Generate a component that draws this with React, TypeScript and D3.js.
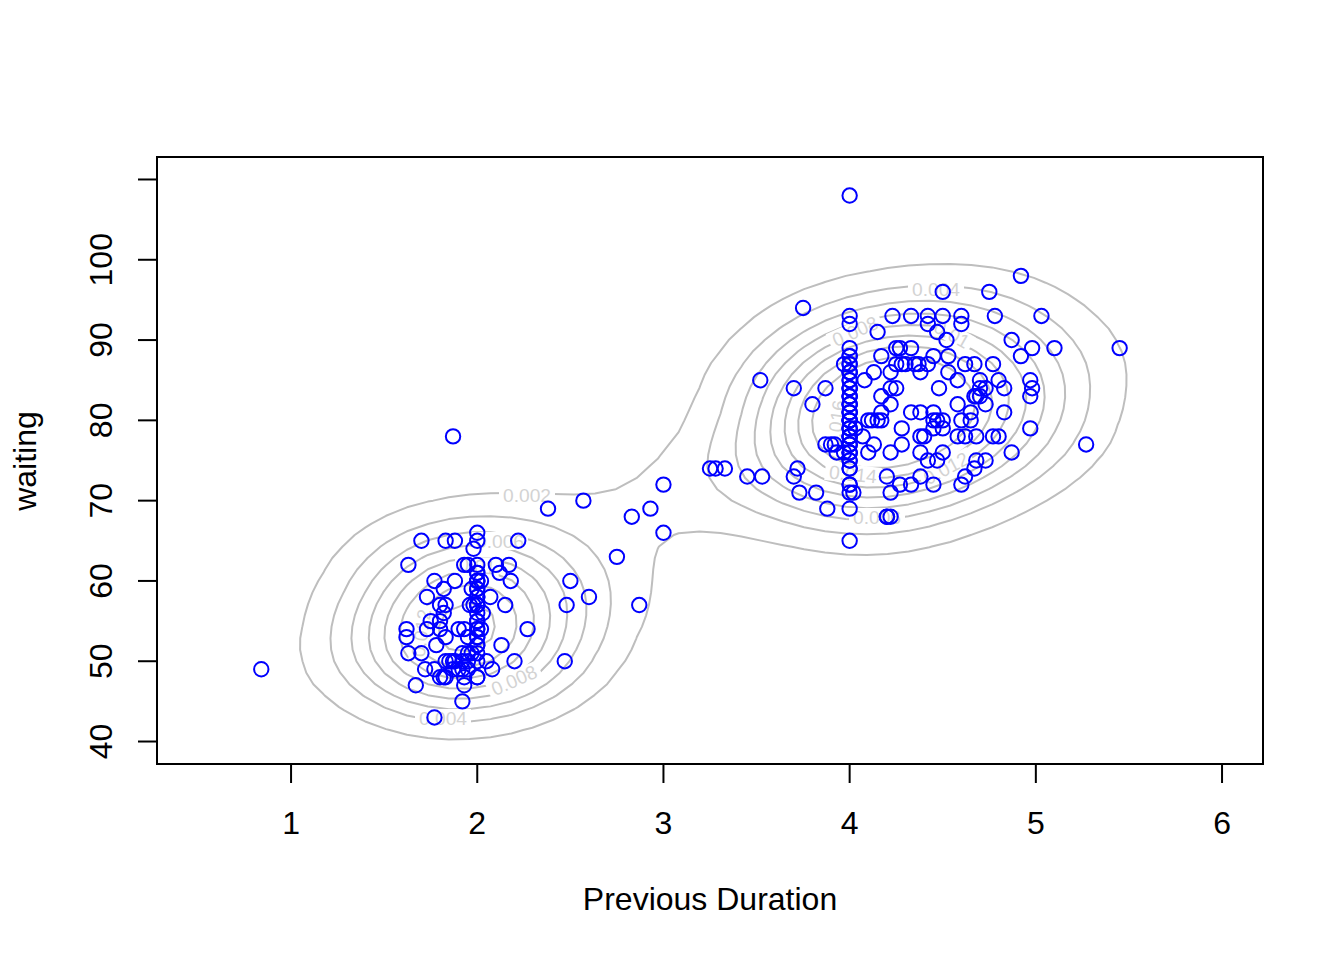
import { useMemo } from 'react'
import * as d3 from 'd3'

const waitingLevels = [43, 45, 47, 48, 49, 50, 51, 52, 53, 54, 55, 56, 57, 58, 59, 60, 61, 62, 63, 64, 65, 66, 68, 69, 70, 71, 72, 73, 74, 75, 76, 77, 78, 79, 80, 81, 82, 83, 84, 85, 86, 87, 88, 89, 90, 91, 92, 93, 94, 96, 98, 108]

const durationsAtLevel = [
  [1.77],
  [1.92],
  [1.67, 1.93],
  [1.8, 1.82, 1.83, 1.93, 2],
  [0.84, 1.72, 1.77, 1.87, 1.9, 1.92, 1.95, 2.08],
  [1.83, 1.85, 1.87, 1.88, 1.92, 1.95, 2.05, 2.2, 2.47],
  [1.63, 1.7, 1.92, 1.95, 1.97],
  [1.78, 2, 2.13],
  [1.62, 1.83, 1.95, 2],
  [1.62, 1.73, 1.8, 1.9, 1.93, 2, 2.02, 2.27],
  [1.75, 1.8, 2],
  [1.82, 2.03],
  [1.8, 1.83, 1.96, 1.98, 2, 2.15, 2.48, 2.87],
  [1.73, 2, 2.07, 2.6],
  [1.82, 1.97, 2],
  [1.77, 1.88, 2, 2.02, 2.18, 2.5],
  [2, 2.12],
  [1.63, 1.93, 1.95, 2.1, 2.17],
  [2.75],
  [1.98],
  [1.7, 1.83, 1.88, 2, 2.22, 4],
  [2, 3],
  [2.83, 4.2, 4.2, 4.22],
  [2.38, 2.93, 3.88, 4],
  [2.57],
  [3.73, 3.82, 4, 4.02, 4.22],
  [3, 4, 4.27, 4.33, 4.45, 4.6],
  [3.45, 3.53, 3.7, 4.2, 4.38, 4.62],
  [3.25, 3.28, 3.33, 3.72, 4, 4.67],
  [4, 4.42, 4.47, 4.68, 4.73],
  [3.93, 3.97, 4, 4.1, 4.22, 4.38, 4.5, 4.87],
  [3.87, 3.9, 3.92, 4, 4.13, 4.28, 5.27],
  [1.87, 4, 4.07, 4.38, 4.4, 4.58, 4.62, 4.68, 4.77, 4.8],
  [4, 4.03, 4.28, 4.45, 4.5, 4.97],
  [4, 4.1, 4.12, 4.15, 4.17, 4.45, 4.47, 4.5, 4.6, 4.65],
  [4, 4.17, 4.33, 4.38, 4.45, 4.65, 4.83],
  [3.8, 4, 4.22, 4.58, 4.73],
  [4, 4.17, 4.67, 4.68, 4.7, 4.97],
  [3.7, 3.87, 4, 4.22, 4.25, 4.48, 4.7, 4.73, 4.83, 4.98],
  [3.52, 4, 4.08, 4.58, 4.7, 4.8, 4.97],
  [4, 4.13, 4.22, 4.38, 4.53],
  [3.97, 4, 4.25, 4.28, 4.3, 4.35, 4.37, 4.42, 4.62, 4.67, 4.77],
  [4, 4.17, 4.45, 4.53, 4.92],
  [4, 4.25, 4.27, 4.33, 4.98, 5.1, 5.45],
  [4.52, 4.87],
  [4.15, 4.47],
  [4, 4.42, 4.6],
  [4, 4.23, 4.33, 4.42, 4.5, 4.6, 4.78, 5.03],
  [3.75],
  [4.5, 4.75],
  [4.92],
  [4],
]

// rounded durations stack up exactly on 2 and 4, so these can't be seen but still weigh in the density
const hiddenAtTwo = [48, 50, 51, 52, 53, 54, 55, 56, 57, 57, 58, 59, 60, 60, 61, 62]
const hiddenAtFour = [72, 74, 75, 76, 77, 77, 78, 78, 79, 79, 80, 80, 81, 81, 82, 83, 83, 84, 85, 86, 87, 88, 76, 78, 80, 82, 84, 86]

const xTicks = [1, 2, 3, 4, 5, 6]
const yTicks = [40, 50, 60, 70, 80, 90, 100, 110]
const yTickLabels = [40, 50, 60, 70, 80, 90, 100]
const contourLevels = [0.002, 0.004, 0.006, 0.008, 0.01, 0.012, 0.014, 0.016]

// level, px position and angle of the inline contour labels
const contourLabels = [
  { text: '0.002', x: 527, y: 495, angle: 0 },
  { text: '0.004', x: 443, y: 718, angle: 0 },
  { text: '0.006', x: 500, y: 541, angle: 0 },
  { text: '0.008', x: 514, y: 680, angle: -24 },
  { text: '0.01', x: 477, y: 566, angle: 5 },
  { text: '0.012', x: 421, y: 633, angle: -82 },
  { text: '0.004', x: 936, y: 289, angle: 0 },
  { text: '0.006', x: 877, y: 517, angle: 0 },
  { text: '0.008', x: 855, y: 331, angle: -24 },
  { text: '0.01', x: 952, y: 334, angle: 30 },
  { text: '0.012', x: 946, y: 468, angle: -28 },
  { text: '0.014', x: 853, y: 474, angle: 6 },
  { text: '0.016', x: 836, y: 424, angle: -82 },
]

const width = 1344
const height = 960
const margin = { top: 157, right: 81, bottom: 196, left: 157 }
const fontFamily = '"Liberation Sans", Arial, sans-serif'

const gridSize = 50
const xLims = [0.5, 6]
const yLims = [40, 110]
const bandwidth = { x: 0.39, y: 4.7 }

const gaussian = (u: number, h: number) => Math.exp((-u * u) / (2 * h * h)) / (h * Math.sqrt(2 * Math.PI))

export default function App() {
  const innerRight = width - margin.right
  const innerBottom = height - margin.bottom

  const xScale = d3.scaleLinear().domain([0.28, 6.22]).range([margin.left, innerRight])
  const yScale = d3.scaleLinear().domain([37.2, 112.8]).range([innerBottom, margin.top])

  const points = useMemo(() => {
    const visible = waitingLevels.flatMap((waiting, i) =>
      durationsAtLevel[i].map((duration) => ({ duration, waiting }))
    )
    const hidden = [
      ...hiddenAtTwo.map((waiting) => ({ duration: 2, waiting })),
      ...hiddenAtFour.map((waiting) => ({ duration: 4, waiting })),
    ]
    return [...visible, ...hidden]
  }, [])

  const contourPaths = useMemo(() => {
    const gx = d3.range(gridSize).map((i) => xLims[0] + (i * (xLims[1] - xLims[0])) / (gridSize - 1))
    const gy = d3.range(gridSize).map((i) => yLims[0] + (i * (yLims[1] - yLims[0])) / (gridSize - 1))
    const values: number[] = []
    for (const y of gy) {
      for (const x of gx) {
        const sum = d3.sum(points, (p) => gaussian(x - p.duration, bandwidth.x) * gaussian(y - p.waiting, bandwidth.y))
        values.push(sum / points.length)
      }
    }

    const stepX = gx[1] - gx[0]
    const stepY = gy[1] - gy[0]
    const transform = d3.geoTransform({
      point(px, py) {
        this.stream.point(xScale(xLims[0] + (px - 0.5) * stepX), yScale(yLims[0] + (py - 0.5) * stepY))
      },
    })
    const path = d3.geoPath(transform)
    const builder = d3.contours().size([gridSize, gridSize]).thresholds(contourLevels)
    return builder(values).map((c) => ({ level: c.value, d: path(c) ?? '' }))
  }, [points])

  return (
    <svg
      width={width}
      height={height}
      viewBox={`0 0 ${width} ${height}`}
      style={{ position: 'absolute', left: 0, top: 0, background: '#fff' }}
      fontFamily={fontFamily}
    >
      {contourPaths.map((c) => (
        <path key={c.level} d={c.d} fill="none" stroke="#bebebe" strokeWidth={2} strokeLinejoin="round" />
      ))}

      {contourLabels.map((label) => (
        <g key={`${label.text}-${label.x}`} transform={`translate(${label.x}, ${label.y}) rotate(${label.angle})`}>
          <rect x={-label.text.length * 5.6} y={-9} width={label.text.length * 11.2} height={18} fill="#fff" />
          <text textAnchor="middle" y={7} fontSize={19.2} fill="#d3d3d3">
            {label.text}
          </text>
        </g>
      ))}

      {points.map((p, i) => (
        <circle
          key={i}
          cx={xScale(p.duration)}
          cy={yScale(p.waiting)}
          r={7.2}
          fill="none"
          stroke="#0000ff"
          strokeWidth={2}
        />
      ))}

      <rect
        x={margin.left}
        y={margin.top}
        width={innerRight - margin.left}
        height={innerBottom - margin.top}
        fill="none"
        stroke="#000"
        strokeWidth={2}
      />

      {xTicks.map((tick) => (
        <g key={tick} transform={`translate(${xScale(tick)}, ${innerBottom})`}>
          <line y1={0} y2={19} stroke="#000" strokeWidth={2} />
          <text y={70} textAnchor="middle" fontSize={32} fill="#000">
            {tick}
          </text>
        </g>
      ))}

      {yTicks.map((tick) => (
        <line
          key={tick}
          x1={margin.left}
          x2={margin.left - 19}
          y1={yScale(tick)}
          y2={yScale(tick)}
          stroke="#000"
          strokeWidth={2}
        />
      ))}
      {yTickLabels.map((tick) => (
        <text
          key={tick}
          transform={`translate(112, ${yScale(tick)}) rotate(-90)`}
          textAnchor="middle"
          fontSize={32}
          fill="#000"
        >
          {tick}
        </text>
      ))}

      <text x={710} y={910} textAnchor="middle" fontSize={32} fill="#000">
        Previous Duration
      </text>
      <text transform="translate(36, 461) rotate(-90)" textAnchor="middle" fontSize={32} fill="#000">
        waiting
      </text>
    </svg>
  )
}
